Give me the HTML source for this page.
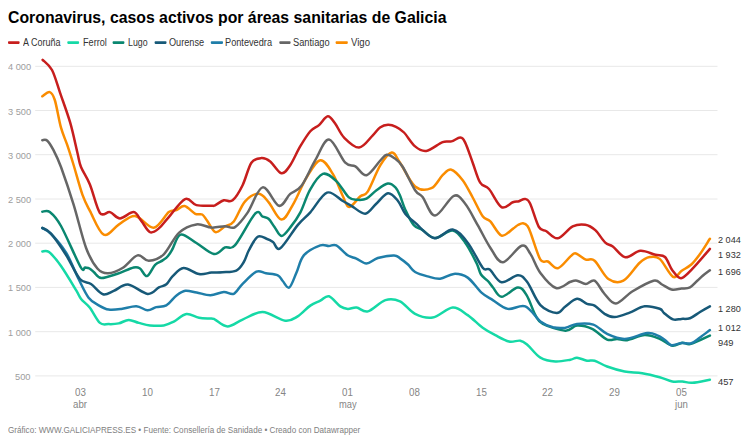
<!DOCTYPE html>
<html><head><meta charset="utf-8"><style>
html,body{margin:0;padding:0;background:#fff;width:756px;height:447px;overflow:hidden;position:relative;font-family:"Liberation Sans",sans-serif;}
.t{position:absolute;white-space:nowrap;transform-origin:0 0;}
svg{position:absolute;left:0;top:0}
</style></head><body>
<svg width="756" height="447" viewBox="0 0 756 447">
<line x1="35.2" x2="717.5" y1="375.9" y2="375.9" stroke="#e8e8e8" stroke-width="1"/>
<line x1="35.2" x2="717.5" y1="331.7" y2="331.7" stroke="#e8e8e8" stroke-width="1"/>
<line x1="35.2" x2="717.5" y1="287.4" y2="287.4" stroke="#e8e8e8" stroke-width="1"/>
<line x1="35.2" x2="717.5" y1="243.2" y2="243.2" stroke="#e8e8e8" stroke-width="1"/>
<line x1="35.2" x2="717.5" y1="199.0" y2="199.0" stroke="#e8e8e8" stroke-width="1"/>
<line x1="35.2" x2="717.5" y1="154.7" y2="154.7" stroke="#e8e8e8" stroke-width="1"/>
<line x1="35.2" x2="717.5" y1="110.5" y2="110.5" stroke="#e8e8e8" stroke-width="1"/>
<line x1="35.2" x2="717.5" y1="66.3" y2="66.3" stroke="#e8e8e8" stroke-width="1"/>

<rect x="8.0" y="41.3" width="11.6" height="2.6" rx="0.8" fill="#c71e1d"/>
<rect x="67.3" y="41.3" width="11.8" height="2.6" rx="0.8" fill="#15d9a6"/>
<rect x="112.6" y="41.3" width="11.8" height="2.6" rx="0.8" fill="#0a8770"/>
<rect x="154.6" y="41.3" width="11.9" height="2.6" rx="0.8" fill="#175978"/>
<rect x="210.8" y="41.3" width="12.2" height="2.6" rx="0.8" fill="#1f7ea9"/>
<rect x="279.3" y="41.3" width="11.3" height="2.6" rx="0.8" fill="#666666"/>
<rect x="335.6" y="41.3" width="12.2" height="2.6" rx="0.8" fill="#fa8c00"/>

<path d="M42.3,96.3 C43.5,95.6 47.7,91.5 49.8,92.1 C51.9,92.7 52.9,94.1 54.8,100.0 C56.7,105.9 58.9,120.2 61.0,127.7 C63.1,135.2 65.2,139.0 67.3,145.2 C69.4,151.4 71.1,156.8 73.6,165.0 C76.1,173.2 79.7,186.9 82.4,194.6 C85.1,202.2 86.4,204.2 89.9,210.9 C93.5,217.6 98.9,232.4 103.7,234.7 C108.5,237.0 113.5,227.7 118.7,224.6 C123.9,221.5 129.2,215.4 135.0,215.9 C140.8,216.4 148.2,228.3 153.8,227.7 C159.4,227.1 165.0,215.0 168.8,212.1 C172.6,209.2 173.9,211.1 176.5,210.1 C179.1,209.1 181.5,205.5 184.6,206.1 C187.7,206.7 192.4,212.4 195.3,213.8 C198.2,215.2 200.2,213.4 202.2,214.5 C204.1,215.6 204.8,217.6 207.0,220.5 C209.2,223.4 212.4,231.1 215.4,232.1 C218.4,233.1 221.9,228.2 225.0,226.4 C228.1,224.6 230.5,225.6 233.8,221.4 C237.2,217.2 240.9,205.9 245.1,201.3 C249.3,196.7 254.9,193.6 258.9,193.8 C262.9,194.0 265.1,198.3 268.9,202.6 C272.6,206.9 277.4,219.2 281.4,219.6 C285.4,220.0 288.5,212.1 292.7,205.1 C296.9,198.1 301.9,185.2 306.5,177.7 C311.1,170.2 315.9,160.8 320.3,160.2 C324.7,159.6 329.1,167.9 332.8,173.9 C336.6,179.9 340.1,190.5 342.8,196.0 C345.5,201.5 346.2,207.0 349.1,207.1 C352.0,207.2 357.3,198.9 360.4,196.3 C363.5,193.7 364.6,196.5 367.9,191.3 C371.2,186.1 376.4,171.6 380.4,165.2 C384.4,158.8 388.4,153.0 391.7,152.6 C395.0,152.2 396.1,157.0 400.0,162.7 C403.9,168.3 409.9,182.2 415.1,186.5 C420.3,190.8 426.8,190.1 431.4,188.2 C436.0,186.3 439.3,178.3 442.6,175.2 C445.9,172.1 448.0,168.9 451.4,169.7 C454.8,170.5 459.1,175.6 462.7,180.2 C466.2,184.8 469.4,191.5 472.7,197.5 C476.0,203.5 479.8,212.3 482.7,216.3 C485.6,220.3 487.2,218.2 490.3,221.4 C493.4,224.6 497.8,234.3 501.5,235.6 C505.2,236.8 510.0,230.7 512.8,228.9 C515.5,227.1 516.3,225.9 518.0,225.0 C519.7,224.1 521.4,223.0 523.0,223.2 C524.6,223.4 526.2,224.2 527.5,226.0 C528.8,227.8 528.9,228.4 531.0,234.0 C533.1,239.6 537.6,255.1 540.4,259.7 C543.2,264.3 545.0,260.1 547.9,261.5 C550.8,262.9 554.1,269.1 557.9,268.2 C561.7,267.3 567.5,258.9 570.5,256.4 C573.5,253.9 573.2,252.9 575.8,253.4 C578.3,253.9 582.7,258.4 585.8,259.6 C588.9,260.8 590.8,257.5 594.6,260.7 C598.4,263.9 603.6,275.7 608.4,279.0 C613.2,282.3 618.2,283.4 623.4,280.7 C628.6,278.0 635.3,266.6 639.7,262.7 C644.1,258.8 646.4,257.7 649.7,257.1 C653.0,256.5 655.8,255.6 659.7,258.9 C663.6,262.2 669.4,274.8 673.0,276.8 C676.6,278.8 678.4,273.1 681.4,271.0 C684.4,268.9 688.2,267.3 691.3,264.5 C694.4,261.7 696.9,258.3 700.0,254.0 C703.1,249.7 708.2,241.3 709.9,238.8" fill="none" stroke="#fa8c00" stroke-width="2.5" stroke-linejoin="round" stroke-linecap="round"/>
<path d="M42.3,211.7 C43.5,211.8 46.7,209.6 49.8,212.0 C52.9,214.4 55.9,216.9 61.0,226.0 C66.1,235.1 76.5,259.9 80.5,266.8 C84.5,273.7 83.5,267.2 85.0,267.5 C86.5,267.8 88.0,267.7 89.5,268.5 C91.0,269.3 92.0,270.7 94.0,272.3 C96.0,273.9 97.4,277.8 101.3,278.0 C105.2,278.2 112.1,275.4 117.5,273.7 C122.9,271.9 129.9,268.4 133.7,267.5 C137.4,266.6 137.8,267.1 140.0,268.5 C142.2,269.9 144.5,276.7 147.0,276.1 C149.5,275.5 152.5,267.4 155.1,264.8 C157.7,262.2 160.5,261.9 162.7,260.4 C164.8,258.9 166.4,257.9 168.0,256.0 C169.6,254.1 170.4,252.6 172.5,249.0 C174.6,245.4 176.7,235.6 180.7,234.6 C184.7,233.6 190.9,239.8 196.4,243.0 C201.9,246.2 209.1,253.3 213.9,254.0 C218.7,254.7 221.5,248.9 225.0,247.4 C228.5,245.9 230.1,250.8 235.1,245.2 C240.1,239.6 250.6,218.3 255.2,213.6 C259.8,208.8 260.5,215.8 262.7,216.7 C264.9,217.6 266.5,217.1 268.5,218.8 C270.5,220.5 272.3,224.1 274.5,227.0 C276.7,229.9 278.9,235.9 281.5,236.0 C284.1,236.1 287.2,231.3 290.3,227.4 C293.4,223.5 297.1,218.6 300.4,212.3 C303.7,206.0 306.3,196.2 310.0,189.8 C313.7,183.4 318.4,175.4 322.8,173.9 C327.2,172.4 332.0,177.2 336.3,181.1 C340.6,185.0 345.3,194.3 348.9,197.4 C352.5,200.5 354.8,199.6 357.7,199.8 C360.6,200.0 363.4,200.2 366.5,198.6 C369.6,197.0 372.9,192.7 376.5,190.2 C380.1,187.7 384.7,184.1 387.8,183.6 C390.9,183.1 393.4,185.4 395.4,187.4 C397.4,189.4 398.3,191.7 400.0,195.5 C401.7,199.3 403.1,205.1 405.4,210.0 C407.7,214.9 410.9,221.8 413.8,225.1 C416.7,228.4 419.1,227.9 422.6,230.1 C426.2,232.3 430.1,238.0 435.1,238.1 C440.1,238.2 447.7,229.8 452.7,230.6 C457.7,231.4 461.2,237.3 465.2,242.7 C469.2,248.1 473.9,257.7 476.5,263.0 C479.1,268.3 479.1,271.5 481.0,274.5 C482.9,277.5 485.9,278.8 487.9,281.0 C489.9,283.2 490.7,284.9 493.0,287.5 C495.3,290.1 497.6,296.8 501.7,296.8 C505.8,296.8 513.6,287.8 517.8,287.5 C521.9,287.2 523.7,290.5 526.6,295.1 C529.5,299.7 532.7,310.3 535.4,315.1 C538.1,319.9 537.9,321.3 542.9,323.9 C547.9,326.5 559.7,330.4 565.4,330.7 C571.1,331.0 572.5,325.9 577.0,325.6 C581.5,325.3 587.1,326.6 592.1,328.9 C597.1,331.2 602.9,337.9 607.1,339.6 C611.3,341.3 613.8,338.8 617.1,338.9 C620.5,339.0 622.6,340.8 627.2,340.2 C631.8,339.6 639.3,335.3 644.7,335.1 C650.1,334.9 655.1,337.1 659.7,338.9 C664.3,340.7 668.5,345.1 672.3,345.7 C676.1,346.3 679.2,343.0 682.3,342.7 C685.4,342.4 686.5,345.1 691.1,343.9 C695.7,342.7 706.8,337.0 709.9,335.6" fill="none" stroke="#0a8770" stroke-width="2.5" stroke-linejoin="round" stroke-linecap="round"/>
<path d="M42.3,228.1 C43.8,229.1 47.0,229.7 51.0,233.8 C55.0,237.9 61.5,245.1 66.1,252.6 C70.7,260.1 74.8,271.5 78.6,279.0 C82.3,286.5 85.2,293.3 88.6,297.7 C91.9,302.1 95.3,303.3 98.7,305.3 C102.1,307.3 105.0,309.0 108.7,309.6 C112.5,310.2 116.6,309.6 121.2,309.0 C125.8,308.4 131.9,306.0 136.3,306.2 C140.7,306.4 144.2,310.1 147.5,310.3 C150.8,310.5 153.2,307.9 156.3,307.1 C159.4,306.3 162.9,307.2 166.3,305.3 C169.7,303.4 173.3,297.9 176.5,295.5 C179.7,293.1 182.0,291.3 185.3,290.8 C188.7,290.3 192.4,291.8 196.6,292.5 C200.8,293.2 205.9,295.3 210.4,295.2 C214.9,295.1 219.9,292.3 223.8,292.1 C227.7,291.9 230.7,295.2 233.8,293.8 C236.9,292.4 238.8,287.5 242.6,283.8 C246.4,280.1 252.5,273.4 256.4,271.6 C260.3,269.9 262.4,272.7 266.0,273.3 C269.6,273.9 275.0,274.0 277.8,275.3 C280.6,276.6 280.8,279.0 282.7,281.0 C284.6,283.0 287.0,288.9 289.3,287.5 C291.6,286.1 294.1,277.9 296.5,272.5 C298.9,267.1 300.0,259.7 304.0,255.2 C308.0,250.7 316.2,246.9 320.3,245.4 C324.4,243.9 326.1,246.0 328.8,246.0 C331.5,246.0 333.2,243.8 336.3,245.4 C339.4,247.0 344.2,253.1 347.6,255.3 C351.0,257.5 353.2,257.2 356.4,258.6 C359.5,260.0 362.9,263.6 366.5,263.5 C370.1,263.4 373.2,259.4 377.8,258.0 C382.4,256.6 390.3,255.3 394.1,255.4 C397.9,255.5 398.1,257.1 400.4,258.6 C402.7,260.1 405.6,262.3 408.0,264.5 C410.4,266.7 411.8,270.0 415.1,272.0 C418.4,274.0 423.4,275.3 427.6,276.4 C431.8,277.5 435.7,279.1 440.1,278.7 C444.5,278.3 449.3,274.1 453.9,273.9 C458.5,273.7 463.1,274.5 467.7,277.6 C472.3,280.7 477.3,288.9 481.5,292.6 C485.7,296.4 488.4,297.4 492.8,300.1 C497.2,302.8 502.4,307.8 507.8,308.9 C513.2,309.9 519.9,304.3 525.3,306.4 C530.7,308.5 535.8,317.9 540.4,321.4 C545.0,324.9 548.7,326.1 552.9,327.2 C557.1,328.2 561.4,328.2 565.4,327.7 C569.4,327.1 572.4,324.4 577.0,323.9 C581.6,323.4 588.3,322.9 593.3,324.6 C598.3,326.3 601.9,331.5 607.1,333.9 C612.3,336.3 617.9,339.0 624.6,338.9 C631.3,338.8 641.7,333.7 647.2,333.1 C652.7,332.5 654.4,334.2 657.4,335.4 C660.4,336.5 662.6,338.4 665.0,340.0 C667.4,341.6 668.8,344.7 671.5,345.2 C674.2,345.7 678.1,343.3 681.4,343.0 C684.7,342.7 688.2,344.1 691.3,343.2 C694.4,342.3 696.9,339.7 700.0,337.5 C703.1,335.3 708.2,331.3 709.9,330.1" fill="none" stroke="#1f7ea9" stroke-width="2.5" stroke-linejoin="round" stroke-linecap="round"/>
<path d="M42.3,227.9 C43.8,228.8 47.0,229.1 51.0,233.6 C55.0,238.1 61.3,247.4 66.1,255.0 C70.9,262.6 75.8,274.2 79.9,279.0 C84.1,283.8 87.2,281.5 91.0,284.0 C94.8,286.5 99.2,293.1 103.0,294.2 C106.8,295.3 109.5,292.5 113.7,290.9 C117.9,289.3 122.3,284.1 128.0,284.6 C133.7,285.1 142.4,293.4 147.6,293.9 C152.8,294.4 155.8,289.0 158.9,287.4 C162.0,285.8 164.1,286.2 166.4,284.3 C168.7,282.4 169.8,278.8 172.7,276.1 C175.6,273.4 179.2,268.4 183.6,268.1 C188.0,267.8 194.4,273.4 199.0,274.1 C203.6,274.9 207.5,272.9 211.4,272.6 C215.3,272.3 218.3,272.5 222.5,272.2 C226.7,271.9 232.8,272.3 236.3,270.6 C239.9,268.9 241.7,265.4 243.8,262.0 C245.9,258.6 246.7,254.2 249.0,250.0 C251.3,245.8 254.8,238.7 257.7,236.8 C260.6,234.9 263.9,237.8 266.5,238.7 C269.1,239.6 270.7,240.4 273.0,242.0 C275.3,243.6 276.2,251.1 280.3,248.3 C284.4,245.5 292.7,231.1 297.7,225.1 C302.7,219.1 305.4,217.7 310.3,212.3 C315.2,206.9 321.6,194.5 327.0,192.6 C332.4,190.7 338.7,198.8 342.8,201.0 C346.9,203.2 347.7,203.7 351.4,205.8 C355.1,207.9 361.1,214.0 365.2,213.7 C369.3,213.4 372.2,207.4 376.0,204.0 C379.8,200.6 384.3,193.7 388.0,193.2 C391.7,192.7 395.1,197.5 398.0,201.0 C400.9,204.5 402.5,210.4 405.4,214.0 C408.2,217.6 410.4,218.6 415.1,222.6 C419.9,226.6 427.6,236.9 433.9,238.1 C440.2,239.3 447.1,228.8 452.7,229.6 C458.3,230.4 462.7,236.3 467.7,242.7 C472.7,249.0 479.0,263.2 482.7,267.7 C486.4,272.2 486.6,267.1 489.7,269.5 C492.8,271.9 496.8,281.3 501.5,282.3 C506.2,283.3 513.5,275.4 517.8,275.3 C522.1,275.2 523.4,277.0 527.2,282.0 C531.0,287.0 535.5,299.9 540.4,305.1 C545.3,310.3 552.5,312.9 556.7,313.1 C560.9,313.3 562.0,308.8 565.4,306.4 C568.8,304.0 573.4,299.2 577.0,298.8 C580.6,298.4 584.1,302.7 587.0,303.8 C589.9,304.9 591.7,303.9 594.6,305.6 C597.5,307.3 601.3,311.9 604.6,313.8 C607.9,315.7 610.4,317.3 614.6,317.1 C618.8,316.9 624.7,314.4 629.7,312.6 C634.7,310.8 639.7,306.9 644.7,306.3 C649.7,305.7 656.5,307.7 659.7,308.8 C662.9,309.9 661.8,311.2 664.0,313.0 C666.2,314.8 670.1,318.4 673.0,319.4 C675.9,320.4 678.6,319.1 681.4,318.9 C684.2,318.7 686.9,319.3 690.0,318.2 C693.1,317.1 696.7,314.0 700.0,312.0 C703.3,310.0 708.2,307.2 709.9,306.3" fill="none" stroke="#175978" stroke-width="2.5" stroke-linejoin="round" stroke-linecap="round"/>
<path d="M42.3,251.5 C43.4,251.6 45.9,249.7 49.0,252.1 C52.1,254.5 56.5,259.6 61.0,266.0 C65.5,272.4 72.8,284.7 76.1,290.2 C79.4,295.7 78.8,296.1 81.1,299.0 C83.4,301.9 86.8,303.8 89.9,307.8 C93.0,311.8 96.8,320.2 99.9,322.9 C103.0,325.6 105.6,324.0 108.7,324.1 C111.8,324.2 115.4,324.1 118.7,323.4 C122.0,322.7 125.3,320.0 128.7,319.9 C132.0,319.8 135.2,322.0 138.8,322.9 C142.4,323.8 145.8,325.0 150.0,325.4 C154.2,325.8 159.8,326.0 163.8,325.4 C167.8,324.8 170.0,323.5 173.8,321.6 C177.6,319.7 182.2,314.7 186.4,314.1 C190.6,313.5 194.8,317.1 199.0,317.8 C203.2,318.6 208.7,318.3 211.4,318.6 C214.1,318.9 212.3,318.3 215.0,319.6 C217.7,320.9 222.9,326.4 227.5,326.4 C232.1,326.4 236.8,322.0 242.6,319.6 C248.4,317.2 255.5,311.9 262.6,312.1 C269.7,312.3 279.4,320.0 285.2,320.7 C291.0,321.4 293.5,318.9 297.7,316.4 C301.9,313.9 306.5,308.2 310.3,305.6 C314.1,303.0 317.2,302.2 320.3,300.6 C323.4,299.1 325.7,295.3 329.0,296.3 C332.3,297.3 337.2,304.3 340.3,306.4 C343.4,308.5 345.1,308.7 347.8,308.9 C350.5,309.1 353.2,307.2 356.6,307.6 C360.0,308.0 363.1,312.6 367.9,311.4 C372.7,310.1 380.0,301.8 385.4,300.1 C390.8,298.4 395.1,299.1 400.0,301.4 C404.9,303.7 409.7,311.2 415.1,313.9 C420.5,316.6 426.3,318.7 432.6,317.6 C438.9,316.6 446.9,308.0 452.7,307.6 C458.5,307.2 462.7,311.8 467.7,315.1 C472.7,318.5 478.1,324.4 482.7,327.7 C487.3,331.0 490.9,332.9 495.3,335.2 C499.7,337.5 504.8,340.6 509.0,341.5 C513.2,342.4 517.2,340.1 520.3,340.7 C523.4,341.3 524.4,342.4 527.8,345.2 C531.1,348.0 535.8,355.0 540.4,357.7 C545.0,360.4 550.4,361.2 555.4,361.5 C560.4,361.8 566.9,360.3 570.5,359.7 C574.1,359.1 574.2,357.5 577.0,357.7 C579.8,357.9 584.1,360.2 587.0,360.7 C589.9,361.2 591.2,359.7 594.6,360.7 C598.0,361.7 602.1,364.7 607.1,366.5 C612.1,368.3 618.8,370.4 624.6,371.5 C630.5,372.6 636.4,372.2 642.2,373.2 C648.1,374.1 654.7,375.8 659.7,377.2 C664.7,378.6 668.5,380.8 672.3,381.5 C676.1,382.2 679.0,381.3 682.3,381.5 C685.6,381.7 687.7,383.1 692.3,382.8 C696.9,382.5 707.0,380.2 709.9,379.7" fill="none" stroke="#15d9a6" stroke-width="2.5" stroke-linejoin="round" stroke-linecap="round"/>
<path d="M42.3,140.2 C43.1,140.3 45.4,139.0 47.3,140.7 C49.2,142.4 51.2,145.8 53.5,150.2 C55.8,154.6 57.6,157.9 61.0,167.0 C64.3,176.1 69.4,191.1 73.6,204.6 C77.8,218.1 82.1,237.3 86.1,248.0 C90.1,258.6 93.8,264.3 97.4,268.5 C101.1,272.7 103.8,273.4 108.0,273.3 C112.2,273.2 117.6,271.0 122.5,268.0 C127.4,265.0 133.1,256.6 137.5,255.4 C141.9,254.2 144.4,261.0 148.8,260.8 C153.2,260.6 158.8,259.0 163.8,254.3 C168.8,249.6 173.5,237.8 178.9,232.8 C184.3,227.8 191.0,225.3 196.4,224.4 C201.8,223.5 206.6,227.3 211.4,227.6 C216.2,227.9 221.1,226.3 225.0,226.2 C228.9,226.1 231.3,229.4 235.1,227.1 C238.9,224.8 243.0,219.2 247.6,212.6 C252.2,206.0 257.4,188.5 262.6,187.4 C267.8,186.3 274.3,204.7 278.9,205.8 C283.5,206.9 286.4,197.2 290.2,193.9 C294.0,190.6 297.3,191.4 301.5,185.8 C305.7,180.2 310.7,167.9 315.3,160.2 C319.9,152.5 324.0,139.2 329.0,139.6 C334.0,140.0 340.9,158.2 345.3,162.7 C349.7,167.2 351.8,164.3 355.4,166.4 C358.9,168.5 362.5,176.2 366.6,175.2 C370.8,174.2 377.0,163.9 380.3,160.5 C383.6,157.1 384.3,155.2 386.6,154.8 C388.9,154.4 391.5,156.0 394.1,157.9 C396.8,159.8 399.0,161.1 402.5,166.5 C406.0,171.9 411.8,185.1 415.1,190.2 C418.5,195.3 419.3,192.8 422.6,197.0 C425.9,201.2 429.9,215.8 435.1,215.6 C440.3,215.4 448.9,197.8 453.9,195.8 C458.9,193.8 461.2,198.9 465.2,203.8 C469.2,208.7 473.5,217.8 477.7,225.1 C481.9,232.4 486.1,241.5 490.3,247.7 C494.5,253.9 497.6,262.5 502.8,262.2 C508.0,261.9 517.0,247.1 521.6,245.7 C526.2,244.3 527.3,249.3 530.4,253.9 C533.5,258.4 536.1,267.3 540.4,273.0 C544.7,278.7 551.0,286.5 556.0,288.0 C561.0,289.5 567.0,283.0 570.5,281.8 C574.0,280.6 574.5,280.3 577.0,280.7 C579.5,281.1 582.9,284.0 585.8,284.0 C588.7,284.0 591.5,279.0 594.6,280.7 C597.7,282.4 601.1,290.2 604.6,294.0 C608.1,297.8 611.3,303.9 615.9,303.5 C620.5,303.1 625.9,295.3 632.2,291.5 C638.5,287.7 648.5,281.9 653.5,280.7 C658.5,279.5 659.0,283.0 662.0,284.5 C665.0,286.0 668.3,288.8 671.5,289.5 C674.7,290.2 678.3,289.0 681.4,288.6 C684.5,288.2 687.4,288.6 690.0,287.3 C692.6,286.0 694.8,283.0 697.0,281.0 C699.2,279.0 700.9,277.3 703.0,275.5 C705.1,273.7 708.8,271.1 709.9,270.2" fill="none" stroke="#666666" stroke-width="2.5" stroke-linejoin="round" stroke-linecap="round"/>
<path d="M42.6,59.8 C44.2,61.5 49.1,64.5 52.0,70.0 C54.9,75.5 57.0,83.8 60.0,92.6 C63.0,101.4 67.3,112.7 70.2,122.7 C73.1,132.7 75.6,145.3 77.4,152.7 C79.2,160.1 78.9,161.7 81.0,167.0 C83.1,172.3 86.8,176.8 89.9,184.5 C93.1,192.2 96.6,208.3 99.9,212.9 C103.2,217.5 106.7,211.2 110.0,212.1 C113.3,213.0 116.0,218.4 120.0,218.4 C124.0,218.4 130.1,211.7 133.7,212.1 C137.2,212.5 138.6,217.6 141.3,220.9 C144.0,224.2 147.1,230.9 150.0,232.2 C152.9,233.4 155.7,230.9 158.8,228.4 C161.9,225.9 164.4,222.0 168.8,217.1 C173.2,212.2 180.5,201.1 185.1,199.1 C189.7,197.1 192.0,204.0 196.4,205.1 C200.8,206.2 208.3,205.8 211.4,205.8 C214.5,205.8 212.9,206.2 215.0,205.3 C217.1,204.4 220.9,201.1 223.8,200.3 C226.7,199.5 229.5,202.8 232.6,200.3 C235.7,197.8 239.5,191.5 242.6,185.2 C245.7,178.9 248.3,167.2 251.4,162.7 C254.5,158.2 258.3,158.3 261.4,158.1 C264.5,157.9 266.9,158.9 270.2,161.4 C273.5,163.9 278.1,172.6 281.4,173.2 C284.7,173.8 287.1,169.7 290.2,165.2 C293.3,160.7 296.8,152.1 300.2,146.4 C303.6,140.8 307.2,134.9 310.3,131.3 C313.4,127.8 316.1,127.6 319.0,125.1 C321.9,122.6 325.1,116.5 327.8,116.3 C330.5,116.1 332.6,120.2 335.3,123.8 C338.0,127.3 340.1,133.6 344.1,137.6 C348.1,141.6 354.3,148.0 359.1,147.6 C363.9,147.2 369.3,138.7 372.8,135.3 C376.3,132.0 377.5,129.2 380.0,127.5 C382.5,125.8 385.3,124.9 388.0,124.8 C390.7,124.7 393.3,125.5 396.0,126.8 C398.7,128.1 400.8,129.2 404.0,132.5 C407.2,135.8 411.4,143.3 415.1,146.4 C418.8,149.5 421.7,151.6 426.3,150.9 C430.9,150.2 438.4,143.7 442.6,142.1 C446.8,140.5 448.5,142.2 451.4,141.4 C454.3,140.7 457.9,137.4 460.2,137.6 C462.5,137.8 463.1,138.4 465.2,142.6 C467.3,146.8 470.2,156.0 472.7,162.7 C475.2,169.4 477.5,178.3 480.2,182.7 C482.9,187.1 485.4,184.9 489.0,189.0 C492.6,193.1 497.5,204.9 501.5,207.1 C505.5,209.3 509.9,203.3 512.8,202.3 C515.7,201.3 517.0,201.8 519.0,201.2 C521.0,200.6 523.2,198.6 525.1,199.0 C527.0,199.4 527.8,198.8 530.1,203.5 C532.4,208.2 536.2,222.4 538.9,227.0 C541.6,231.6 543.2,229.3 546.4,231.2 C549.5,233.1 553.4,239.1 557.8,238.3 C562.2,237.5 568.1,228.7 572.7,226.4 C577.3,224.1 581.5,224.1 585.3,224.7 C589.1,225.3 592.0,227.2 595.3,230.2 C598.6,233.2 602.4,240.0 605.3,242.7 C608.2,245.4 609.4,244.1 612.8,246.5 C616.1,248.9 620.8,256.6 625.4,257.3 C630.0,258.0 635.4,251.2 640.4,250.8 C645.4,250.4 651.3,253.8 655.4,254.8 C659.5,255.8 662.2,254.4 665.0,257.0 C667.8,259.6 669.6,266.7 672.3,270.2 C675.0,273.7 677.7,278.4 681.0,278.2 C684.3,278.0 687.5,273.8 692.3,268.9 C697.1,264.0 707.0,252.2 709.9,248.9" fill="none" stroke="#c71e1d" stroke-width="2.5" stroke-linejoin="round" stroke-linecap="round"/>

</svg>
<div class="t" style="left:7.97px;top:8.66px;font-size:17px;line-height:17px;font-weight:bold;color:#000;transform:scaleX(0.9299)">Coronavirus, casos activos por áreas sanitarias de Galicia</div>
<div class="t" style="left:23.04px;top:38.27px;font-size:10px;line-height:10px;font-weight:normal;color:#333;transform:scaleX(0.9021)">A Coruña</div>
<div class="t" style="left:82.54px;top:38.27px;font-size:10px;line-height:10px;font-weight:normal;color:#333;transform:scaleX(0.9121)">Ferrol</div>
<div class="t" style="left:127.75px;top:38.27px;font-size:10px;line-height:10px;font-weight:normal;color:#333;transform:scaleX(0.8811)">Lugo</div>
<div class="t" style="left:169.43px;top:38.27px;font-size:10px;line-height:10px;font-weight:normal;color:#333;transform:scaleX(0.9159)">Ourense</div>
<div class="t" style="left:225.03px;top:38.27px;font-size:10px;line-height:10px;font-weight:normal;color:#333;transform:scaleX(0.9194)">Pontevedra</div>
<div class="t" style="left:293.23px;top:38.27px;font-size:10px;line-height:10px;font-weight:normal;color:#333;transform:scaleX(0.9280)">Santiago</div>
<div class="t" style="left:351.02px;top:38.27px;font-size:10px;line-height:10px;font-weight:normal;color:#333;transform:scaleX(0.9557)">Vigo</div>
<div class="t" style="left:15.23px;top:371.88px;font-size:9.8px;line-height:9.8px;font-weight:normal;color:#9d9d9d;transform:scaleX(0.9502)">500</div>
<div class="t" style="left:7.63px;top:327.65px;font-size:9.8px;line-height:9.8px;font-weight:normal;color:#9d9d9d;transform:scaleX(0.9433)">1 000</div>
<div class="t" style="left:7.63px;top:283.42px;font-size:9.8px;line-height:9.8px;font-weight:normal;color:#9d9d9d;transform:scaleX(0.9433)">1 500</div>
<div class="t" style="left:7.63px;top:239.19px;font-size:9.8px;line-height:9.8px;font-weight:normal;color:#9d9d9d;transform:scaleX(0.9433)">2 000</div>
<div class="t" style="left:7.63px;top:194.96px;font-size:9.8px;line-height:9.8px;font-weight:normal;color:#9d9d9d;transform:scaleX(0.9433)">2 500</div>
<div class="t" style="left:7.63px;top:150.73px;font-size:9.8px;line-height:9.8px;font-weight:normal;color:#9d9d9d;transform:scaleX(0.9433)">3 000</div>
<div class="t" style="left:7.63px;top:106.50px;font-size:9.8px;line-height:9.8px;font-weight:normal;color:#9d9d9d;transform:scaleX(0.9433)">3 500</div>
<div class="t" style="left:7.63px;top:62.27px;font-size:9.8px;line-height:9.8px;font-weight:normal;color:#9d9d9d;transform:scaleX(0.9433)">4 000</div>
<div class="t" style="left:75.01px;top:387.98px;font-size:10px;line-height:10px;font-weight:normal;color:#858585;transform:scaleX(0.9782)">03</div>
<div class="t" style="left:73.46px;top:399.78px;font-size:10px;line-height:10px;font-weight:normal;color:#858585;transform:scaleX(0.9668)">abr</div>
<div class="t" style="left:141.77px;top:387.98px;font-size:10px;line-height:10px;font-weight:normal;color:#858585;transform:scaleX(0.9782)">10</div>
<div class="t" style="left:208.52px;top:387.98px;font-size:10px;line-height:10px;font-weight:normal;color:#858585;transform:scaleX(0.9782)">17</div>
<div class="t" style="left:275.28px;top:387.98px;font-size:10px;line-height:10px;font-weight:normal;color:#858585;transform:scaleX(0.9782)">24</div>
<div class="t" style="left:342.04px;top:387.98px;font-size:10px;line-height:10px;font-weight:normal;color:#858585;transform:scaleX(0.9782)">01</div>
<div class="t" style="left:338.66px;top:399.78px;font-size:10px;line-height:10px;font-weight:normal;color:#858585;transform:scaleX(0.9334)">may</div>
<div class="t" style="left:408.80px;top:387.98px;font-size:10px;line-height:10px;font-weight:normal;color:#858585;transform:scaleX(0.9782)">08</div>
<div class="t" style="left:475.56px;top:387.98px;font-size:10px;line-height:10px;font-weight:normal;color:#858585;transform:scaleX(0.9782)">15</div>
<div class="t" style="left:542.32px;top:387.98px;font-size:10px;line-height:10px;font-weight:normal;color:#858585;transform:scaleX(0.9782)">22</div>
<div class="t" style="left:609.08px;top:387.98px;font-size:10px;line-height:10px;font-weight:normal;color:#858585;transform:scaleX(0.9782)">29</div>
<div class="t" style="left:675.84px;top:387.98px;font-size:10px;line-height:10px;font-weight:normal;color:#858585;transform:scaleX(0.9782)">05</div>
<div class="t" style="left:674.84px;top:399.78px;font-size:10px;line-height:10px;font-weight:normal;color:#858585;transform:scaleX(0.9634)">jun</div>
<div class="t" style="left:717.54px;top:234.53px;font-size:9.5px;line-height:9.5px;font-weight:normal;color:#333;transform:scaleX(0.9600)">2 044</div>
<div class="t" style="left:717.54px;top:249.53px;font-size:9.5px;line-height:9.5px;font-weight:normal;color:#333;transform:scaleX(0.9600)">1 932</div>
<div class="t" style="left:717.54px;top:267.43px;font-size:9.5px;line-height:9.5px;font-weight:normal;color:#333;transform:scaleX(0.9600)">1 696</div>
<div class="t" style="left:717.54px;top:304.23px;font-size:9.5px;line-height:9.5px;font-weight:normal;color:#333;transform:scaleX(0.9600)">1 280</div>
<div class="t" style="left:717.54px;top:323.23px;font-size:9.5px;line-height:9.5px;font-weight:normal;color:#333;transform:scaleX(0.9600)">1 012</div>
<div class="t" style="left:717.53px;top:337.73px;font-size:9.5px;line-height:9.5px;font-weight:normal;color:#333;transform:scaleX(0.9802)">949</div>
<div class="t" style="left:717.53px;top:377.23px;font-size:9.5px;line-height:9.5px;font-weight:normal;color:#333;transform:scaleX(0.9802)">457</div>
<div class="t" style="left:7.58px;top:425.63px;font-size:8.5px;line-height:8.5px;font-weight:normal;color:#808080;transform:scaleX(0.9551)">Gráfico: WWW.GALICIAPRESS.ES • Fuente: Consellería de Sanidade • Creado con Datawrapper</div>

</body></html>
